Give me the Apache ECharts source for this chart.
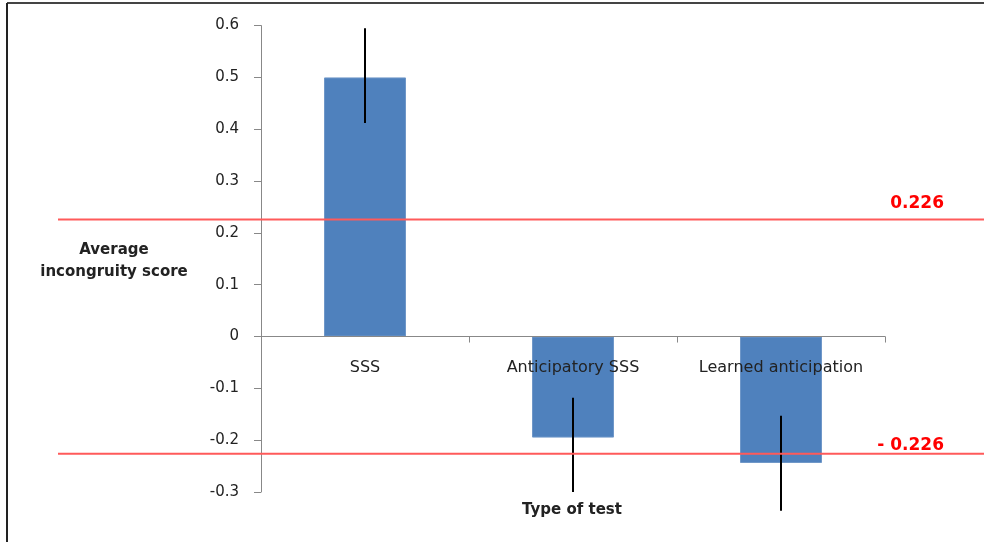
<!DOCTYPE html>
<html>
<head>
<meta charset="utf-8">
<script src="https://cdn.jsdelivr.net/npm/echarts@6/dist/echarts.min.js"></script>
<style>html,body{margin:0;padding:0;background:#fff;}#c{width:984px;height:542px;}</style>
</head>
<body>
<div id="c"></div>
<script>
const categories = ['SSS', 'Anticipatory SSS', 'Learned anticipation'];
const means = [0.5, -0.195, -0.244];
const errLow = [0.412, -0.30, -0.336];
const errHigh = [0.595, -0.118, -0.153];
const thresholds = [0.226, -0.226];
const thresholdLabels = ['0.226', '- 0.226'];
const yMin = -0.3, yMax = 0.6, yStep = 0.1;

const FONT = 'DejaVu Sans';
const GRID_TOP = 25.6, GRID_BOTTOM = 50, H = 542;
const plotH = H - GRID_TOP - GRID_BOTTOM;
// distance from grid bottom up to the zero line, so the category axis sits on zero
const zeroOffset = plotH * (0 - yMin) / (yMax - yMin);

const chart = echarts.init(document.getElementById('c'), null, {renderer: 'canvas'});
chart.setOption({
  animation: false,
  backgroundColor: '#fff',
  grid: {left: 261, right: 99, top: GRID_TOP, bottom: GRID_BOTTOM, containLabel: false},
  xAxis: {
    type: 'category',
    data: categories,
    position: 'bottom',
    offset: -zeroOffset,
    z: 10,
    axisLine: {show: true, onZero: false, lineStyle: {color: '#888', width: 1}},
    axisTick: {show: true, length: 6, lineStyle: {color: '#888'}},
    axisLabel: {interval: 0, hideOverlap: false, margin: 23, fontFamily: FONT, fontSize: 16, color: '#222'}
  },
  yAxis: {
    type: 'value',
    min: yMin, max: yMax, interval: yStep,
    axisLine: {show: true, lineStyle: {color: '#888', width: 1}},
    axisTick: {show: true, length: 7, lineStyle: {color: '#888'}},
    splitLine: {show: false},
    axisLabel: {margin: 22, fontFamily: FONT, fontSize: 15, color: '#222',
      formatter: v => String(Math.round(v * 10) / 10)}
  },
  series: [
    {
      type: 'bar',
      data: means,
      barWidth: 82,
      itemStyle: {color: '#4f81bd', borderColor: '#6f97c8', borderWidth: 1}
    },
    {
      type: 'custom',
      z: 5,
      data: categories.map((c, i) => [i, errLow[i], errHigh[i]]),
      renderItem: function (params, api) {
        const p1 = api.coord([api.value(0), api.value(1)]);
        const p2 = api.coord([api.value(0), api.value(2)]);
        return {type: 'line', shape: {x1: p1[0], y1: p1[1], x2: p2[0], y2: p2[1]},
          style: {stroke: '#000', lineWidth: 2}};
      }
    },
    {
      type: 'custom',
      z: 6,
      clip: false,
      data: thresholds.map((t, i) => [0, t, i]),
      renderItem: function (params, api) {
        const y = api.coord([0, api.value(1)])[1];
        const idx = api.value(2);
        const dy = [-16, -8][idx];
        return {type: 'group', children: [
          {type: 'line', shape: {x1: 58, y1: y, x2: 984, y2: y},
            style: {stroke: '#ff5a5a', lineWidth: 2}},
          {type: 'text', x: 944, y: y + dy,
            style: {text: thresholdLabels[idx], fill: '#ff0000', font: 'bold 17px "DejaVu Sans"',
              align: 'right', verticalAlign: 'middle'}}
        ]};
      }
    }
  ],
  graphic: [
    {type: 'line', shape: {x1: 7, y1: 3, x2: 984, y2: 3}, style: {stroke: '#444', lineWidth: 2}},
    {type: 'line', shape: {x1: 7, y1: 3, x2: 7, y2: 542}, style: {stroke: '#222', lineWidth: 2}},
    {type: 'text', x: 114, y: 261, style: {text: 'Average\nincongruity score',
      font: 'bold 15px "DejaVu Sans"', fill: '#222', align: 'center', verticalAlign: 'middle', lineHeight: 22}},
    {type: 'text', x: 572, y: 510, style: {text: 'Type of test',
      font: 'bold 15px "DejaVu Sans"', fill: '#222', align: 'center', verticalAlign: 'middle'}}
  ]
});
</script>
</body>
</html>
